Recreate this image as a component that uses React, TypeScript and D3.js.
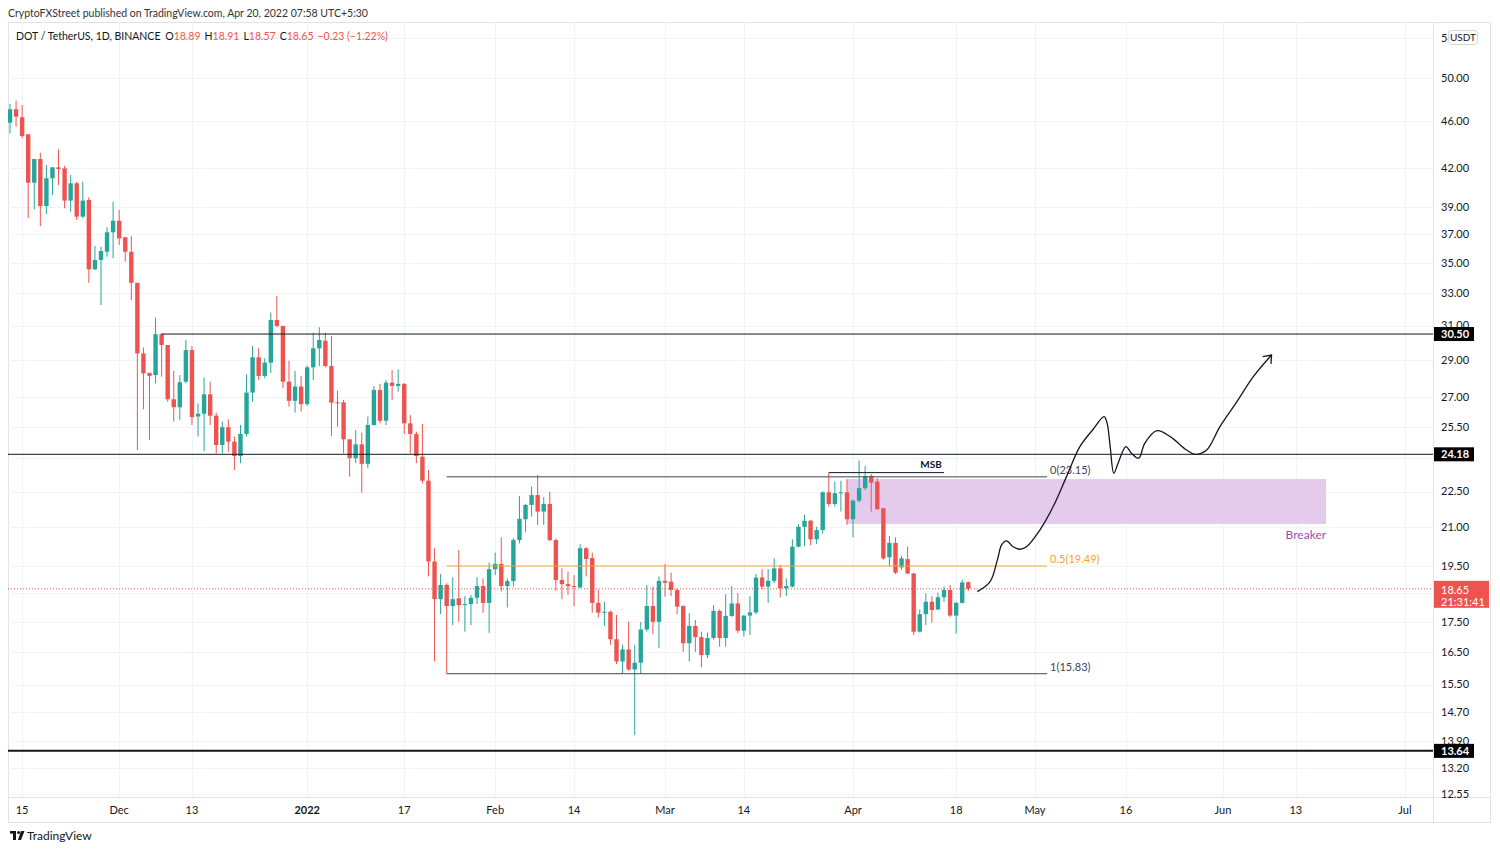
import { useEffect } from "react";
import * as d3 from "d3";

// DOT/USDT daily candles, Nov 13 2021 -> Apr 20 2022
const firstCandle = "2021-11-13";

const open = [
  45.87, 47.07, 46.35, 44.85, 40.85, 42.76, 39.05, 41.2, 42.08, 42.0,
  39.46, 40.8, 38.26, 39.51, 34.56, 35.19, 35.75, 37.12, 37.96, 36.76,
  35.75, 33.67, 29.38, 28.3, 28.18, 30.49, 29.86, 26.89, 26.48, 27.82,
  29.57, 26.01, 26.15, 27.15, 26.05, 24.62, 25.48, 24.78, 24.1, 25.15,
  27.24, 29.16, 28.13, 28.86, 31.34, 30.98, 27.82, 26.81, 27.56, 26.64,
  28.6, 29.67, 30.11, 28.67, 26.73, 26.73, 24.89, 24.0, 24.65, 23.74,
  25.59, 27.38, 25.8, 27.77, 27.59, 27.7, 25.67, 25.15, 24.07, 22.98,
  19.66, 18.28, 18.79, 18.04, 18.31, 18.09, 18.11, 18.33, 18.75, 18.15,
  19.37, 19.57, 18.75, 18.93, 20.49, 21.33, 21.93, 22.35, 21.65, 21.97,
  20.49, 18.97, 18.82, 18.75, 18.7, 20.17, 19.79, 18.15, 17.81, 17.84,
  16.92, 16.21, 16.59, 15.96, 16.17, 17.24, 18.04, 17.5, 18.94, 18.91,
  18.61, 18.04, 16.79, 17.36, 16.99, 16.41, 16.96, 17.87, 16.96, 17.7,
  18.13, 17.2, 17.71, 17.82, 19.06, 18.73, 18.94, 19.4, 18.67, 18.73,
  20.23, 21.02, 21.27, 20.52, 20.89, 22.47, 21.97, 22.43, 22.47, 21.33,
  22.11, 22.65, 23.19, 22.94, 21.79, 19.82, 20.38, 19.44, 19.75, 19.21,
  17.17, 17.76, 18.19, 17.92, 18.35, 18.61, 17.71, 18.15, 18.89,
];
const high = [
  47.55, 47.86, 47.46, 44.85, 42.76, 43.28, 42.27, 42.08, 43.57, 42.19,
  41.46, 40.93, 40.93, 39.72, 36.15, 36.1, 37.48, 39.38, 38.75, 36.8,
  36.85, 33.67, 29.72, 28.3, 31.48, 30.55, 29.86, 28.41, 28.18, 30.15,
  29.8, 26.68, 28.05, 27.82, 26.21, 25.76, 25.87, 25.02, 25.59, 28.21,
  29.8, 29.67, 29.11, 31.79, 32.83, 30.98, 28.97, 28.41, 28.13, 28.7,
  30.58, 30.9, 30.58, 30.39, 27.34, 26.85, 24.89, 25.34, 25.21, 26.01,
  27.59, 27.7, 27.91, 28.45, 28.49, 27.75, 26.08, 25.26, 25.64, 23.46,
  20.17, 19.19, 18.85, 19.07, 20.1, 18.39, 18.43, 19.07, 19.03, 19.62,
  20.0, 20.6, 19.03, 20.56, 22.31, 21.98, 22.72, 23.24, 22.26, 22.5,
  20.55, 19.4, 19.28, 19.15, 20.33, 20.21, 20.0, 18.61, 18.19, 17.88,
  17.73, 16.74, 17.5, 16.74, 17.5, 18.79, 18.73, 19.1, 19.57, 19.24,
  18.67, 18.07, 17.79, 17.56, 17.17, 17.14, 18.07, 17.92, 18.46, 18.75,
  18.49, 17.73, 18.39, 19.19, 19.37, 19.37, 19.78, 19.53, 19.03, 20.52,
  21.13, 21.51, 21.3, 21.02, 22.52, 23.34, 22.94, 22.98, 23.04, 22.17,
  23.89, 23.64, 23.28, 23.09, 21.8, 20.65, 20.6, 19.87, 20.23, 19.24,
  17.92, 18.49, 18.39, 18.51, 18.73, 18.79, 18.19, 18.97, 18.91,
];
const low = [
  44.93, 45.51, 44.51, 38.14, 38.8, 37.57, 38.45, 39.89, 40.67, 38.88,
  38.62, 38.01, 38.14, 33.67, 34.51, 32.26, 35.41, 35.31, 36.22, 35.07,
  32.57, 24.38, 26.38, 24.86, 27.73, 28.09, 26.76, 25.76, 25.84, 27.73,
  25.59, 25.02, 24.33, 25.59, 24.22, 24.22, 24.3, 23.46, 23.77, 25.02,
  26.76, 27.91, 28.0, 28.3, 30.9, 27.47, 26.51, 26.21, 26.26, 26.55,
  27.91, 28.67, 28.6, 25.05, 25.5, 24.22, 23.16, 23.77, 22.45, 23.54,
  25.55, 25.67, 25.59, 26.85, 27.29, 25.15, 24.22, 23.77, 22.86, 19.1,
  16.21, 17.76, 15.83, 17.39, 17.5, 17.17, 17.39, 18.11, 17.81, 17.13,
  19.15, 18.55, 17.99, 18.73, 20.36, 20.82, 21.44, 21.1, 21.1, 20.45,
  18.58, 18.28, 18.43, 18.04, 18.67, 19.1, 17.81, 17.65, 17.36, 16.74,
  16.13, 15.84, 15.92, 14.06, 15.82, 17.17, 17.09, 16.63, 18.37, 18.39,
  17.76, 16.51, 16.21, 16.51, 16.03, 16.32, 16.9, 16.68, 16.68, 17.67,
  17.13, 17.01, 17.06, 17.76, 18.63, 18.15, 18.85, 18.35, 18.39, 18.7,
  20.2, 20.25, 20.29, 20.33, 20.75, 21.86, 21.86, 21.65, 21.1, 20.6,
  22.03, 22.57, 21.65, 21.72, 19.72, 19.47, 19.19, 19.34, 19.19, 17.06,
  17.14, 17.39, 17.47, 17.9, 18.19, 17.67, 17.11, 18.13, 18.57,
];
const close = [
  47.07, 46.4, 44.7, 40.85, 42.76, 39.05, 41.2, 42.08, 41.94, 39.46,
  40.8, 38.26, 39.46, 34.56, 35.19, 35.8, 37.12, 37.96, 36.69, 35.75,
  33.67, 29.38, 28.27, 28.13, 30.49, 29.86, 26.89, 26.48, 27.79, 29.57,
  25.98, 26.15, 27.15, 26.05, 24.62, 25.48, 24.78, 24.1, 25.15, 27.24,
  29.16, 28.13, 28.86, 31.34, 30.98, 27.82, 26.81, 27.56, 26.64, 28.6,
  29.67, 30.15, 28.67, 26.71, 26.68, 24.89, 24.0, 24.65, 23.74, 25.59,
  27.38, 25.8, 27.77, 27.59, 27.7, 25.67, 25.15, 24.1, 22.98, 19.66,
  18.28, 18.79, 18.04, 18.28, 18.07, 18.11, 18.33, 18.75, 18.15, 19.37,
  19.57, 18.75, 18.93, 20.49, 21.35, 21.93, 22.35, 21.65, 21.97, 20.49,
  18.97, 18.82, 18.75, 18.72, 20.17, 19.75, 18.15, 17.81, 17.84, 16.92,
  16.21, 16.59, 15.96, 16.17, 17.24, 18.04, 17.5, 18.94, 18.87, 18.61,
  18.02, 16.79, 17.36, 16.99, 16.41, 16.96, 17.87, 16.96, 17.7, 18.13,
  17.2, 17.71, 17.82, 19.06, 18.73, 18.94, 19.4, 18.67, 18.75, 20.23,
  21.02, 21.27, 20.52, 20.89, 22.47, 21.97, 22.43, 22.47, 21.33, 22.11,
  22.65, 23.19, 22.89, 21.75, 19.78, 20.38, 19.24, 19.78, 19.21, 17.17,
  17.76, 18.19, 17.9, 18.35, 18.61, 17.71, 18.15, 18.88, 18.65,
];

// axes (24.00 and 18.50 sit under the price tags, so only their grid lines show)
const priceTicks = [54, 50, 46, 42, 39, 37, 35, 33, 31, 29, 27, 25.5, 24, 22.5, 21, 19.5, 18.5, 17.5, 16.5, 15.5, 14.7, 13.9, 13.2, 12.55];
const hiddenTicks = [24, 18.5];
const dateTicks = ["2021-11-15", "2021-12-01", "2021-12-13", "2022-01-01", "2022-01-17", "2022-02-01", "2022-02-14", "2022-03-01", "2022-03-14", "2022-04-01", "2022-04-18", "2022-05-01", "2022-05-16", "2022-06-01", "2022-06-13", "2022-07-01"];
const dateLabels = ["15", "Dec", "13", "2022", "17", "Feb", "14", "Mar", "14", "Apr", "18", "May", "16", "Jun", "13", "Jul"];

// drawings
const levelPrices = [30.5, 24.18, 13.64];
const levelStarts = ["2021-12-08", "2021-11-12", "2021-11-12"];
const fibNames = ["0", "0.5", "1"];
const fibPrices = [23.15, 19.49, 15.83];
const fibFrom = "2022-01-24";
const fibTo = "2022-05-03";
const msbPrice = 23.34;
const msbFrom = "2022-03-28";
const msbTo = "2022-04-16";
const breakerTop = 23.05;
const breakerBottom = 21.14;
const breakerFrom = "2022-03-31";
const breakerTo = "2022-06-18";
// projected path: days after first candle, price
const pathDays = [159.5, 161.6, 162.8, 163.5, 164.3, 165.4, 166.5, 167.6, 169.8, 172.0, 174.2, 176.4, 178.6, 180.4, 180.9, 181.4, 182.0, 182.7, 184.0, 184.9, 186.1, 187.1, 189.1, 191.3, 194.0, 195.4, 197.3, 199.5, 202.3, 205.0, 208.0];
const pathPrices = [18.55, 18.91, 19.72, 20.3, 20.46, 20.23, 20.13, 20.23, 20.89, 21.86, 23.16, 24.54, 25.38, 26.0, 25.67, 24.54, 23.31, 23.77, 24.54, 24.23, 24.0, 24.7, 25.31, 25.02, 24.38, 24.18, 24.38, 25.51, 26.77, 28.09, 29.29];

const lastPrice = 18.65;

const FONT = "Lato, 'Open Sans', sans-serif";
const UP = "#26a69a";
const DOWN = "#ef5350";
const GRID = "#f0f3fa";
const BORDER = "#e0e3eb";
const TEXT = "#131722";

const parse = d3.utcParse("%Y-%m-%d");
const DAY = 86400000;

export default function App() {
  useEffect(() => {
    document.body.style.margin = "0";
  }, []);

  const left = 8, right = 1433, top = 22, bottom = 797, frameRight = 1490, frameBottom = 822;

  const t0 = parse(firstCandle)!.getTime();
  const x = d3.scaleUtc().domain([new Date(t0), parse("2022-07-01")!]).range([10, 10 + 230 * 6.065]);
  const y = d3.scaleLog().domain([12.55, 50]).range([794, 78]);
  const dx = (d: number) => x(new Date(t0 + d * DAY));

  const candles = open.map((o, i) => ({ o, h: high[i], l: low[i], c: close[i], cx: dx(i) }));

  const pathLine = d3
    .line<number>()
    .x((d) => dx(d))
    .y((_, i) => y(pathPrices[i]))
    .curve(d3.curveCatmullRom.alpha(0.5));

  const fx0 = x(parse(fibFrom)!);
  const fx1 = x(parse(fibTo)!);

  return (
    <svg width={1500} height={852} style={{ display: "block", fontFamily: FONT }}>
      <defs>
        <clipPath id="plot">
          <rect x={left} y={top} width={right - left} height={bottom - top} />
        </clipPath>
        <marker id="arrow" viewBox="-10 -10 20 20" markerWidth={20} markerHeight={20} markerUnits="userSpaceOnUse" orient="auto">
          <path d="M-7,-5.5 L0,0 L-7,5.5" fill="none" stroke={TEXT} strokeWidth={1.3} />
        </marker>
      </defs>
      <rect width={1500} height={852} fill="#fff" />

      <text x={8} y={17} fontSize={10.5} fill="#333">
        CryptoFXStreet published on TradingView.com, Apr 20, 2022 07:58 UTC+5:30
      </text>

      {/* frame */}
      <rect x={left + 0.5} y={top + 0.5} width={frameRight - left} height={frameBottom - top} fill="none" stroke={BORDER} />
      <line x1={right + 0.5} x2={right + 0.5} y1={top} y2={frameBottom} stroke={BORDER} />
      <line x1={left} x2={frameRight} y1={bottom + 0.5} y2={bottom + 0.5} stroke={BORDER} />

      {/* grid */}
      {priceTicks.map((p) => (
        <line key={"hg" + p} x1={left} x2={right} y1={Math.round(y(p)) + 0.5} y2={Math.round(y(p)) + 0.5} stroke={GRID} />
      ))}
      {dateTicks.map((d) => {
        const px = Math.round(x(parse(d)!)) + 0.5;
        return <line key={"vg" + d} x1={px} x2={px} y1={top} y2={bottom} stroke={GRID} />;
      })}

      <g clipPath="url(#plot)">
        {/* breaker block */}
        <rect
          x={x(parse(breakerFrom)!)}
          y={y(breakerTop)}
          width={x(parse(breakerTo)!) - x(parse(breakerFrom)!)}
          height={y(breakerBottom) - y(breakerTop)}
          fill="#e4cbec"
        />

        {/* candles */}
        {candles.map((k, i) => {
          const col = k.c >= k.o ? UP : DOWN;
          const bt = y(Math.max(k.o, k.c));
          const bb = y(Math.min(k.o, k.c));
          return (
            <g key={i}>
              <line x1={k.cx} x2={k.cx} y1={y(k.h)} y2={y(k.l)} stroke={col} strokeWidth={1} />
              <rect x={k.cx - 2.2} y={bt} width={4.4} height={Math.max(1, bb - bt)} fill={col} />
            </g>
          );
        })}

        {/* horizontal levels */}
        {levelPrices.map((p, i) => (
          <line
            key={"lv" + p}
            x1={Math.max(left, x(parse(levelStarts[i])!))}
            x2={right}
            y1={y(p)}
            y2={y(p)}
            stroke={TEXT}
            strokeWidth={i === 2 ? 2 : 1}
          />
        ))}

        {/* fib */}
        {fibPrices.map((p, i) => (
          <g key={"fib" + i}>
            <line x1={fx0} x2={fx1} y1={y(p)} y2={y(p)} stroke={i === 1 ? "#f5a623" : "#434651"} strokeWidth={1} />
            <text x={fx1 + 3} y={y(p) - 3} fontSize={11} fill={i === 1 ? "#f5a623" : "#434651"}>
              {`${fibNames[i]}(${p.toFixed(2)})`}
            </text>
          </g>
        ))}

        {/* MSB */}
        <line x1={x(parse(msbFrom)!)} x2={x(parse(msbTo)!)} y1={y(msbPrice)} y2={y(msbPrice)} stroke={TEXT} strokeWidth={1} />
        <text x={x(parse(msbTo)!) - 13} y={y(msbPrice) - 4.5} fontSize={10} fontWeight="bold" textAnchor="middle" fill={TEXT}>
          MSB
        </text>

        <text x={x(parse(breakerTo)!)} y={y(breakerBottom) + 15} fontSize={12} textAnchor="end" fill="#9c4fb0">
          Breaker
        </text>

        {/* projected move */}
        <path d={pathLine(pathDays) ?? ""} fill="none" stroke={TEXT} strokeWidth={1.3} markerEnd="url(#arrow)" />

        {/* last price */}
        <line x1={left} x2={right} y1={y(lastPrice)} y2={y(lastPrice)} stroke={DOWN} strokeDasharray="1,2" />
      </g>

      {/* price axis */}
      {priceTicks
        .filter((p) => !hiddenTicks.includes(p))
        .map((p) => (
          <text key={"pt" + p} x={1441} y={y(p)} dy="0.35em" fontSize={11} fill={TEXT}>
            {p.toFixed(2)}
          </text>
        ))}
      {levelPrices.map((p) => (
        <g key={"lb" + p}>
          <rect x={right + 1} y={y(p) - 7} width={40} height={14} fill="#000" />
          <text x={1441} y={y(p)} dy="0.35em" fontSize={11} fontWeight="bold" fill="#fff">
            {p.toFixed(2)}
          </text>
        </g>
      ))}
      <rect x={right + 1} y={y(lastPrice) - 8} width={55} height={27} fill={DOWN} />
      <text x={1441} y={y(lastPrice) + 1} dy="0.35em" fontSize={11} fill="#fff">
        {lastPrice.toFixed(2)}
      </text>
      <text x={1441} y={y(lastPrice) + 13.5} dy="0.35em" fontSize={11} fill="#fff">
        21:31:41
      </text>
      <rect x={1448.5} y={30.5} width={29} height={14} rx={3} fill="#fff" stroke="#d1d4dc" />
      <text x={1463} y={37.5} dy="0.35em" fontSize={10} textAnchor="middle" fill={TEXT}>
        USDT
      </text>

      {/* time axis */}
      {dateTicks.map((d, i) => (
        <text
          key={"dt" + d}
          x={x(parse(d)!)}
          y={810}
          dy="0.35em"
          fontSize={11}
          textAnchor="middle"
          fontWeight={dateLabels[i] === "2022" ? "bold" : "normal"}
          fill={TEXT}
        >
          {dateLabels[i]}
        </text>
      ))}

      {/* legend */}
      <text x={16} y={40} fontSize={10.5} fill={TEXT}>
        DOT / TetherUS, 1D, BINANCE
        <tspan dx={5}>O</tspan>
        <tspan fill={DOWN}>18.89</tspan>
        <tspan dx={4}>H</tspan>
        <tspan fill={DOWN}>18.91</tspan>
        <tspan dx={4}>L</tspan>
        <tspan fill={DOWN}>18.57</tspan>
        <tspan dx={4}>C</tspan>
        <tspan fill={DOWN}>18.65</tspan>
        <tspan dx={4} fill={DOWN}>−0.23 (−1.22%)</tspan>
      </text>

      {/* footer logo */}
      <g transform="translate(10,831)" fill={TEXT}>
        <rect x={0} y={0} width={6} height={2.6} />
        <rect x={3} y={0} width={3} height={9} />
        <circle cx={8.6} cy={1.4} r={1.5} />
        <path d="M11,0 L14.5,0 L11,9 L8,9 Z" />
      </g>
      <text x={27} y={840} fontSize={12} fill={TEXT}>
        TradingView
      </text>
    </svg>
  );
}
